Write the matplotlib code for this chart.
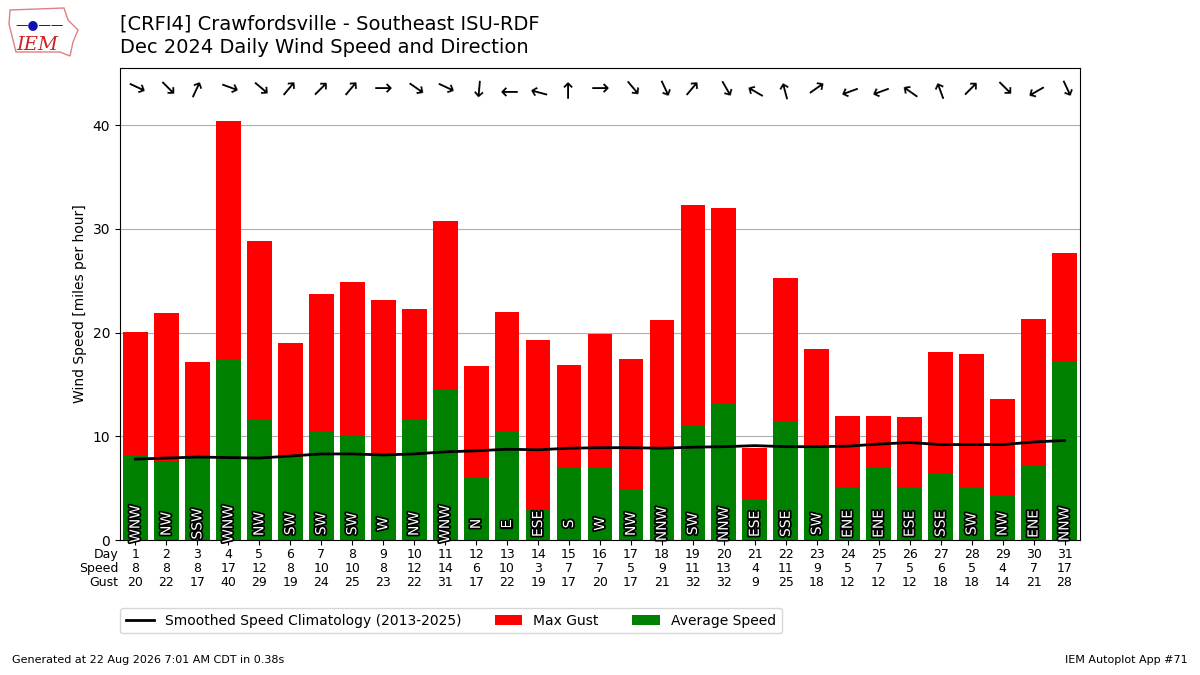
import matplotlib
matplotlib.use("Agg")
import matplotlib.pyplot as plt
import matplotlib.patheffects as PathEffects
from matplotlib.patches import Polygon

# December 2024 daily values for CRFI4
days = list(range(1, 32))
avg_speed = [8.1, 7.6, 8.0, 17.4, 11.6, 8.0, 10.5, 10.0, 8.2, 11.6,
             14.5, 6.1, 10.5, 3.0, 6.9, 7.0, 4.9, 9.0, 11.1, 13.2,
             4.0, 11.4, 9.0, 5.0, 7.0, 5.0, 6.5, 5.0, 4.3, 7.2, 17.3]
max_gust = [20.1, 21.9, 17.2, 40.4, 28.8, 19.0, 23.7, 24.9, 23.1, 22.3,
            30.8, 16.8, 22.0, 19.3, 16.9, 19.9, 17.5, 21.2, 32.3, 32.0,
            8.9, 25.3, 18.4, 12.0, 12.0, 11.9, 18.1, 17.9, 13.6, 21.3, 27.7]
speed_lbl = [8, 8, 8, 17, 12, 8, 10, 10, 8, 12, 14, 6, 10, 3, 7, 7, 5, 9,
             11, 13, 4, 11, 9, 5, 7, 5, 6, 5, 4, 7, 17]
gust_lbl = [20, 22, 17, 40, 29, 19, 24, 25, 23, 22, 31, 17, 22, 19, 17, 20,
            17, 21, 32, 32, 9, 25, 18, 12, 12, 12, 18, 18, 14, 21, 28]
dir_txt = ["WNW", "NW", "SSW", "WNW", "NW", "SW", "SW", "SW", "W", "NW",
           "WNW", "N", "E", "ESE", "S", "W", "NW", "NNW", "SW", "NNW",
           "ESE", "SSE", "SW", "ENE", "ENE", "ESE", "SSE", "SW", "NW", "ENE",
           "NNW"]
dir_deg = [295, 315, 205, 290, 310, 220, 225, 220, 270, 305,
           295, 5, 90, 105, 180, 270, 320, 335, 220, 330,
           120, 165, 235, 70, 70, 125, 160, 225, 315, 60, 335]
climo = [7.8, 7.9, 8.0, 7.95, 7.9, 8.1, 8.3, 8.3, 8.2, 8.3,
         8.5, 8.6, 8.75, 8.7, 8.85, 8.9, 8.9, 8.85, 8.95, 9.0,
         9.1, 9.0, 9.0, 9.05, 9.25, 9.4, 9.2, 9.2, 9.2, 9.45, 9.6]

fig = plt.figure(figsize=(12, 6.75), dpi=100)
ax = fig.add_axes([0.1, 0.2, 0.8, 0.699])

ax.plot(days, climo, color="k", lw=2,
        label="Smoothed Speed Climatology (2013-2025)", zorder=4)
ax.bar(days, max_gust, width=0.8, color="r", label="Max Gust", zorder=2)
ax.bar(days, avg_speed, width=0.8, color="g", label="Average Speed", zorder=2)

for d, txt in zip(days, dir_txt):
    t = ax.text(d, 1.55, txt, rotation=90, ha="center", va="center",
                color="white", fontsize=10, zorder=5)
    t.set_path_effects([PathEffects.withStroke(linewidth=2.5, foreground="k")])

# arrows pointing where the wind blows to
for d, deg in zip(days, dir_deg):
    ang = 270 - deg
    ax.text(d, 43.5, "\u2192", rotation=ang, rotation_mode="anchor",
            ha="center", va="center", fontsize=16, zorder=5)

ax.set_xlim(0.5, 31.5)
ax.set_ylim(0, 45.5)
ax.set_yticks([0, 10, 20, 30, 40])
ax.grid(axis="y", color="#b0b0b0", zorder=0)
ax.set_axisbelow(True)
ax.set_ylabel("Wind Speed [miles per hour]")
ax.set_xticks(days)
ax.set_xticklabels([f"{d}\n{s}\n{g}" for d, s, g in zip(days, speed_lbl, gust_lbl)],
                   fontsize=9, linespacing=1.1)
ax.tick_params(axis="x", pad=2)
ax.text(-0.002, -0.017, "Day\nSpeed\nGust", transform=ax.transAxes,
        ha="right", va="top", fontsize=9, linespacing=1.1)

ax.legend(ncol=3, loc="upper left", bbox_to_anchor=(-0.007, -0.13),
          fontsize=10, columnspacing=2.4)

fig.text(0.1, 0.964, "[CRFI4] Crawfordsville - Southeast ISU-RDF", fontsize=14,
         ha="left", va="center")
fig.text(0.1, 0.929, "Dec 2024 Daily Wind Speed and Direction", fontsize=14,
         ha="left", va="center")

# rough IEM logo
iowa = [(10, 10), (64, 8), (68, 20), (78, 30), (73, 42), (70, 56),
        (60, 52), (16, 52), (13, 40), (9, 24)]
fig.patches.append(Polygon([(x / 1200, 1 - y / 675) for x, y in iowa],
                           closed=True, fill=False, ec="#e08080", lw=1,
                           transform=fig.transFigure, figure=fig))
fig.text(37 / 1200, 1 - 45 / 675, "IEM", fontsize=14, color="#cc2222",
         family="serif", style="italic", ha="center", va="center")
fig.text(40 / 1200, 1 - 25 / 675, "\u2014\u25cf\u2014\u2014", fontsize=9,
         color="#1010b0", ha="center", va="center")

fig.text(0.01, 0.015, "Generated at 22 Aug 2026 7:01 AM CDT in 0.38s",
         fontsize=8, ha="left", va="bottom")
fig.text(0.99, 0.015, "IEM Autoplot App #71", fontsize=8, ha="right",
         va="bottom")

fig.savefig("out.png", dpi=100)
